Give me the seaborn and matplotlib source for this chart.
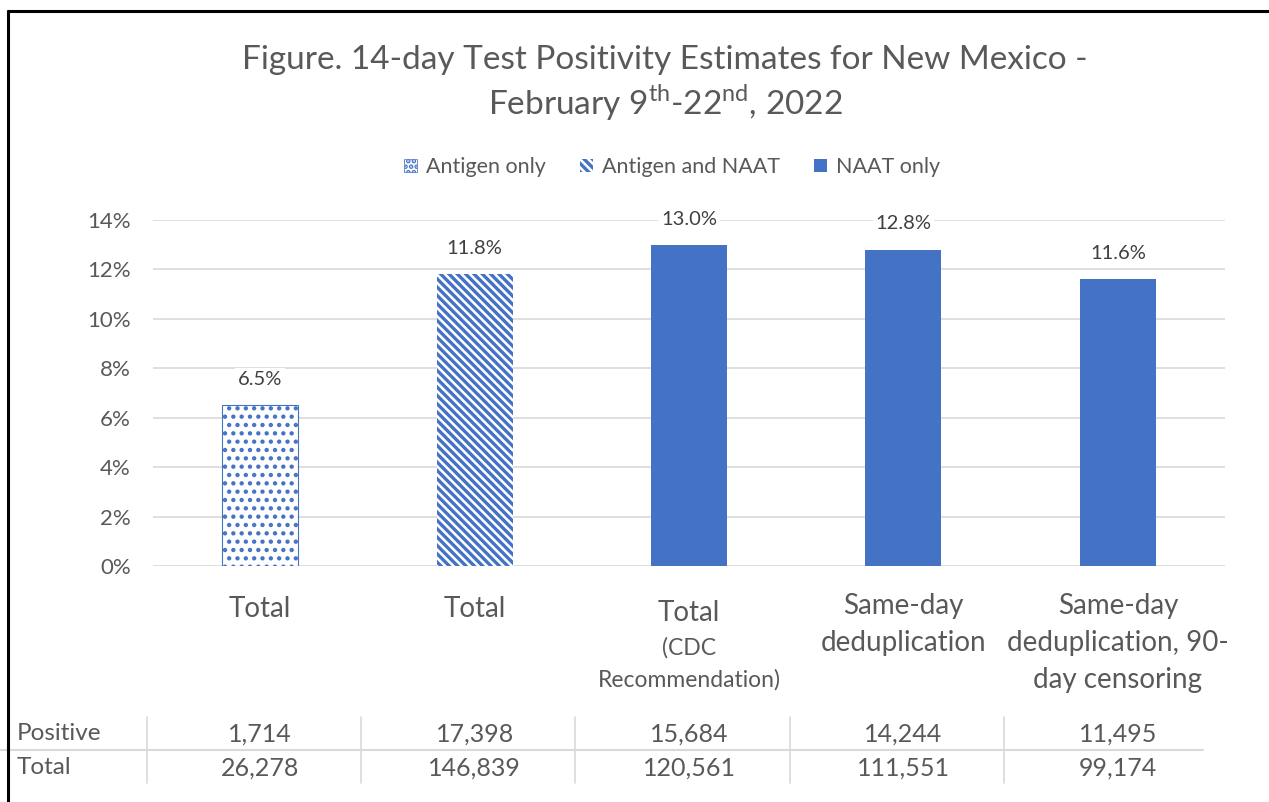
import numpy as np
import pandas as pd
import matplotlib
matplotlib.use('Agg')
import matplotlib.pyplot as plt
import matplotlib.transforms as mtransforms
from matplotlib.patches import Patch
from matplotlib.lines import Line2D
from matplotlib.ticker import FuncFormatter
import seaborn as sns

# data
bar_keys = ['ag_total', 'agnaat_total', 'naat_total', 'naat_dedup', 'naat_dedup90']
bar_types = ['Antigen only', 'Antigen and NAAT', 'NAAT only', 'NAAT only', 'NAAT only']
positivity = [0.065, 0.118, 0.130, 0.128, 0.116]
tick_labels = ['Total', 'Total', 'Total', 'Same-day\ndeduplication',
               'Same-day\ndeduplication, 90-\nday censoring']
sub_labels = ['', '', '(CDC\nRecommendation)', '', '']
positive_counts = [1714, 17398, 15684, 14244, 11495]
total_counts = [26278, 146839, 120561, 111551, 99174]

BLUE = '#4472C4'
TEXT = '#595959'
DARK = '#404040'
GRID = '#D9D9D9'

sns.set_style('white')
plt.rcParams['font.family'] = ['Lato', 'DejaVu Sans']
plt.rcParams['mathtext.fontset'] = 'custom'
plt.rcParams['mathtext.rm'] = 'Lato'
plt.rcParams['hatch.linewidth'] = 2.4

df = pd.DataFrame({'key': bar_keys, 'type': bar_types, 'value': positivity})

fig = plt.figure(figsize=(12.69, 8.02), dpi=100)
ax = fig.add_axes([153 / 1269, 236 / 802, 1072 / 1269, 346 / 802])

sns.barplot(data=df, x='key', y='value', color=BLUE, width=0.355, ax=ax,
            saturation=1, zorder=3)

styles = {
    'Antigen only': dict(facecolor='white', edgecolor=BLUE, hatch='..', linewidth=0.8, hlw=1.9),
    'Antigen and NAAT': dict(facecolor='white', edgecolor=BLUE, hatch='\\\\\\\\', linewidth=0, hlw=2.4),
    'NAAT only': dict(facecolor=BLUE, edgecolor=BLUE, hatch=None, linewidth=0, hlw=1),
}


def style_patch(patch, st):
    patch.set_facecolor(st['facecolor'])
    patch.set_edgecolor(st['edgecolor'])
    patch.set_hatch(st['hatch'])
    patch.set_linewidth(st['linewidth'])
    if hasattr(patch, 'set_hatch_linewidth'):
        patch.set_hatch_linewidth(st['hlw'])


for patch, t in zip(ax.patches, bar_types):
    style_patch(patch, styles[t])

ax.set_xlim(-0.5, len(bar_keys) - 0.5)
ax.set_ylim(0, 0.14)
ax.set_yticks(np.arange(0, 0.141, 0.02))
ax.yaxis.set_major_formatter(FuncFormatter(lambda v, _: f'{v:.0%}'))
ax.tick_params(axis='y', length=0, pad=16, labelsize=16, labelcolor=TEXT)
ax.set_xticks([])
ax.set_xlabel('')
ax.set_ylabel('')
ax.grid(axis='y', color=GRID, linewidth=1.2, zorder=0)
ax.set_axisbelow(True)
for s in ax.spines.values():
    s.set_visible(False)

# value labels
for i, v in enumerate(positivity):
    ax.annotate(f'{v:.1%}', (i, v), xytext=(0, 18.5), textcoords='offset points',
                ha='center', va='center', fontsize=14.5, color=DARK, zorder=5,
                bbox=dict(facecolor='white', edgecolor='none', pad=2))

# category labels under the axis
tr = mtransforms.blended_transform_factory(ax.transData, fig.transFigure)
for i, (lab, sub) in enumerate(zip(tick_labels, sub_labels)):
    if sub:
        top = 1 - 600 / 802
    elif '\n' in lab:
        top = 1 - 593 / 802
    else:
        top = 1 - 596 / 802
    ax.text(i, top, lab, transform=tr, ha='center', va='top', fontsize=20,
            color=TEXT, linespacing=1.52)
    if sub:
        ax.text(i, 1 - 637 / 802, sub, transform=tr, ha='center', va='top',
                fontsize=16.5, color=TEXT, linespacing=1.62)

# data table under the chart
for i, (p, t) in enumerate(zip(positive_counts, total_counts)):
    ax.text(i, 1 - 734 / 802, f'{p:,}', transform=tr, ha='center', va='center',
            fontsize=18, color=TEXT)
    ax.text(i, 1 - 768 / 802, f'{t:,}', transform=tr, ha='center', va='center',
            fontsize=18, color=TEXT)
fig.text(17 / 1269, 1 - 734 / 802, 'Positive', ha='left', va='center', fontsize=17.5, color=TEXT)
fig.text(17 / 1269, 1 - 768 / 802, 'Total', ha='left', va='center', fontsize=17.5, color=TEXT)
for i in range(len(bar_keys)):
    ax.add_line(Line2D([i - 0.53, i - 0.53], [1 - 717 / 802, 1 - 783 / 802], transform=tr,
                       color=GRID, linewidth=1.2, clip_on=False))
fig.add_artist(Line2D([0, 1203 / 1269], [1 - 750 / 802] * 2, color=GRID, linewidth=1.5))

# legend
handles = []
for t in ['Antigen only', 'Antigen and NAAT', 'NAAT only']:
    h = Patch(label=t)
    st = dict(styles[t])
    if t == 'Antigen only':
        st['hatch'] = '...'
        st['linewidth'] = 0.5
        st['hlw'] = 1.3
    style_patch(h, st)
    handles.append(h)
fig.legend(handles=handles, loc='center', bbox_to_anchor=(672 / 1269, 1 - 167 / 802), ncol=3,
           frameon=False, fontsize=15.5, labelcolor=TEXT, handlelength=0.6, handleheight=0.6,
           handletextpad=0.4, columnspacing=1.6)

# title
fig.text(665 / 1269, 1 - 60 / 802, 'Figure. 14-day Test Positivity Estimates for New Mexico -',
         ha='center', va='center', fontsize=24, color=TEXT)
fig.text(665 / 1269, 1 - 103 / 802,
         r'February 9$^{\mathregular{th}}$-22$^{\mathregular{nd}}$, 2022',
         ha='center', va='center', fontsize=24, color=TEXT)

# outer frame (top and left edges visible)
fig.add_artist(Line2D([8 / 1269, 1], [1 - 11 / 802] * 2, color='black', linewidth=2.2))
fig.add_artist(Line2D([8 / 1269] * 2, [1 - 11 / 802, 0], color='black', linewidth=2.2))

fig.savefig('out.png', dpi=100)
